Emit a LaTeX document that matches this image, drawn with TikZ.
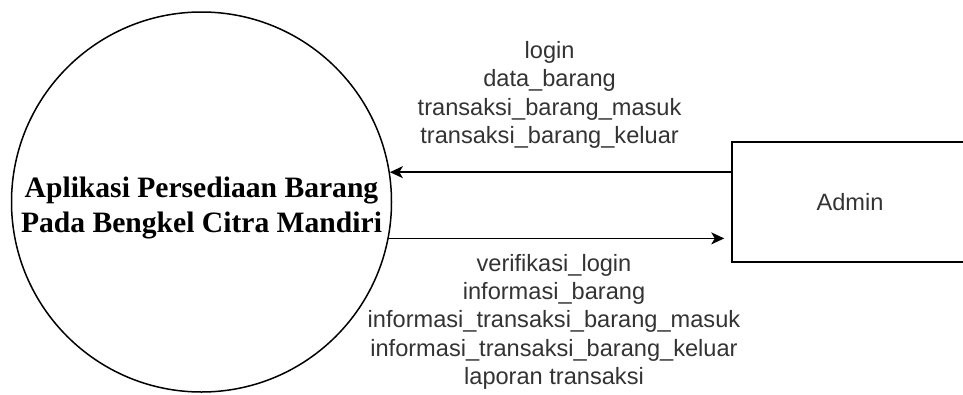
\documentclass[tikz,border=0pt]{standalone}
\usepackage{fontspec}
\setmainfont{Liberation Serif}
\newfontfamily\arialfont{Liberation Sans}
\usetikzlibrary{arrows.meta,positioning}

\begin{document}
\begin{tikzpicture}[x=1pt,y=-1pt,>={Stealth[length=13pt,width=12pt,inset=3.5pt]},
  proc/.style={draw,circle,line width=1.5pt,minimum size=380pt,inner sep=0pt,
    font=\fontsize{29.6}{35}\selectfont\bfseries,align=center},
  ent/.style={draw,line width=1.5pt,minimum width=236pt,minimum height=120pt,
    font=\arialfont\fontsize{23.6}{28}\selectfont,text=black!80},
  flow/.style={->,line width=1.5pt},
  lbl/.style={font=\arialfont\fontsize{23.6}{28.3}\selectfont,align=center,
    text=black!80,inner sep=0pt}]
  \useasboundingbox (0,0) rectangle (963,394);

  \node[proc] (sys) at (201.5,202) {};
  \node[font=\fontsize{29.6}{35}\selectfont\bfseries,align=center] (judul) at ([yshift=-6pt]sys.center) {Aplikasi Persediaan Barang\\Pada Bengkel Citra Mandiri};
  \node[ent] (admin) at (850,202) {Admin};

  % admin -> sistem
  \draw[flow] (admin.west |- sys.9) -- node[lbl,above=23pt,xshift=-11pt]{login\\data\_barang\\transaksi\_barang\_masuk\\transaksi\_barang\_keluar} (sys.9);
  % sistem -> admin
  \draw[flow,shorten >=7pt] (sys.-11) -- node[lbl,below=15pt,xshift=-6pt]{verifikasi\_login\\informasi\_barang\\informasi\_transaksi\_barang\_masuk\\informasi\_transaksi\_barang\_keluar\\laporan transaksi} (sys.-11 -| admin.west);
\end{tikzpicture}
\end{document}
